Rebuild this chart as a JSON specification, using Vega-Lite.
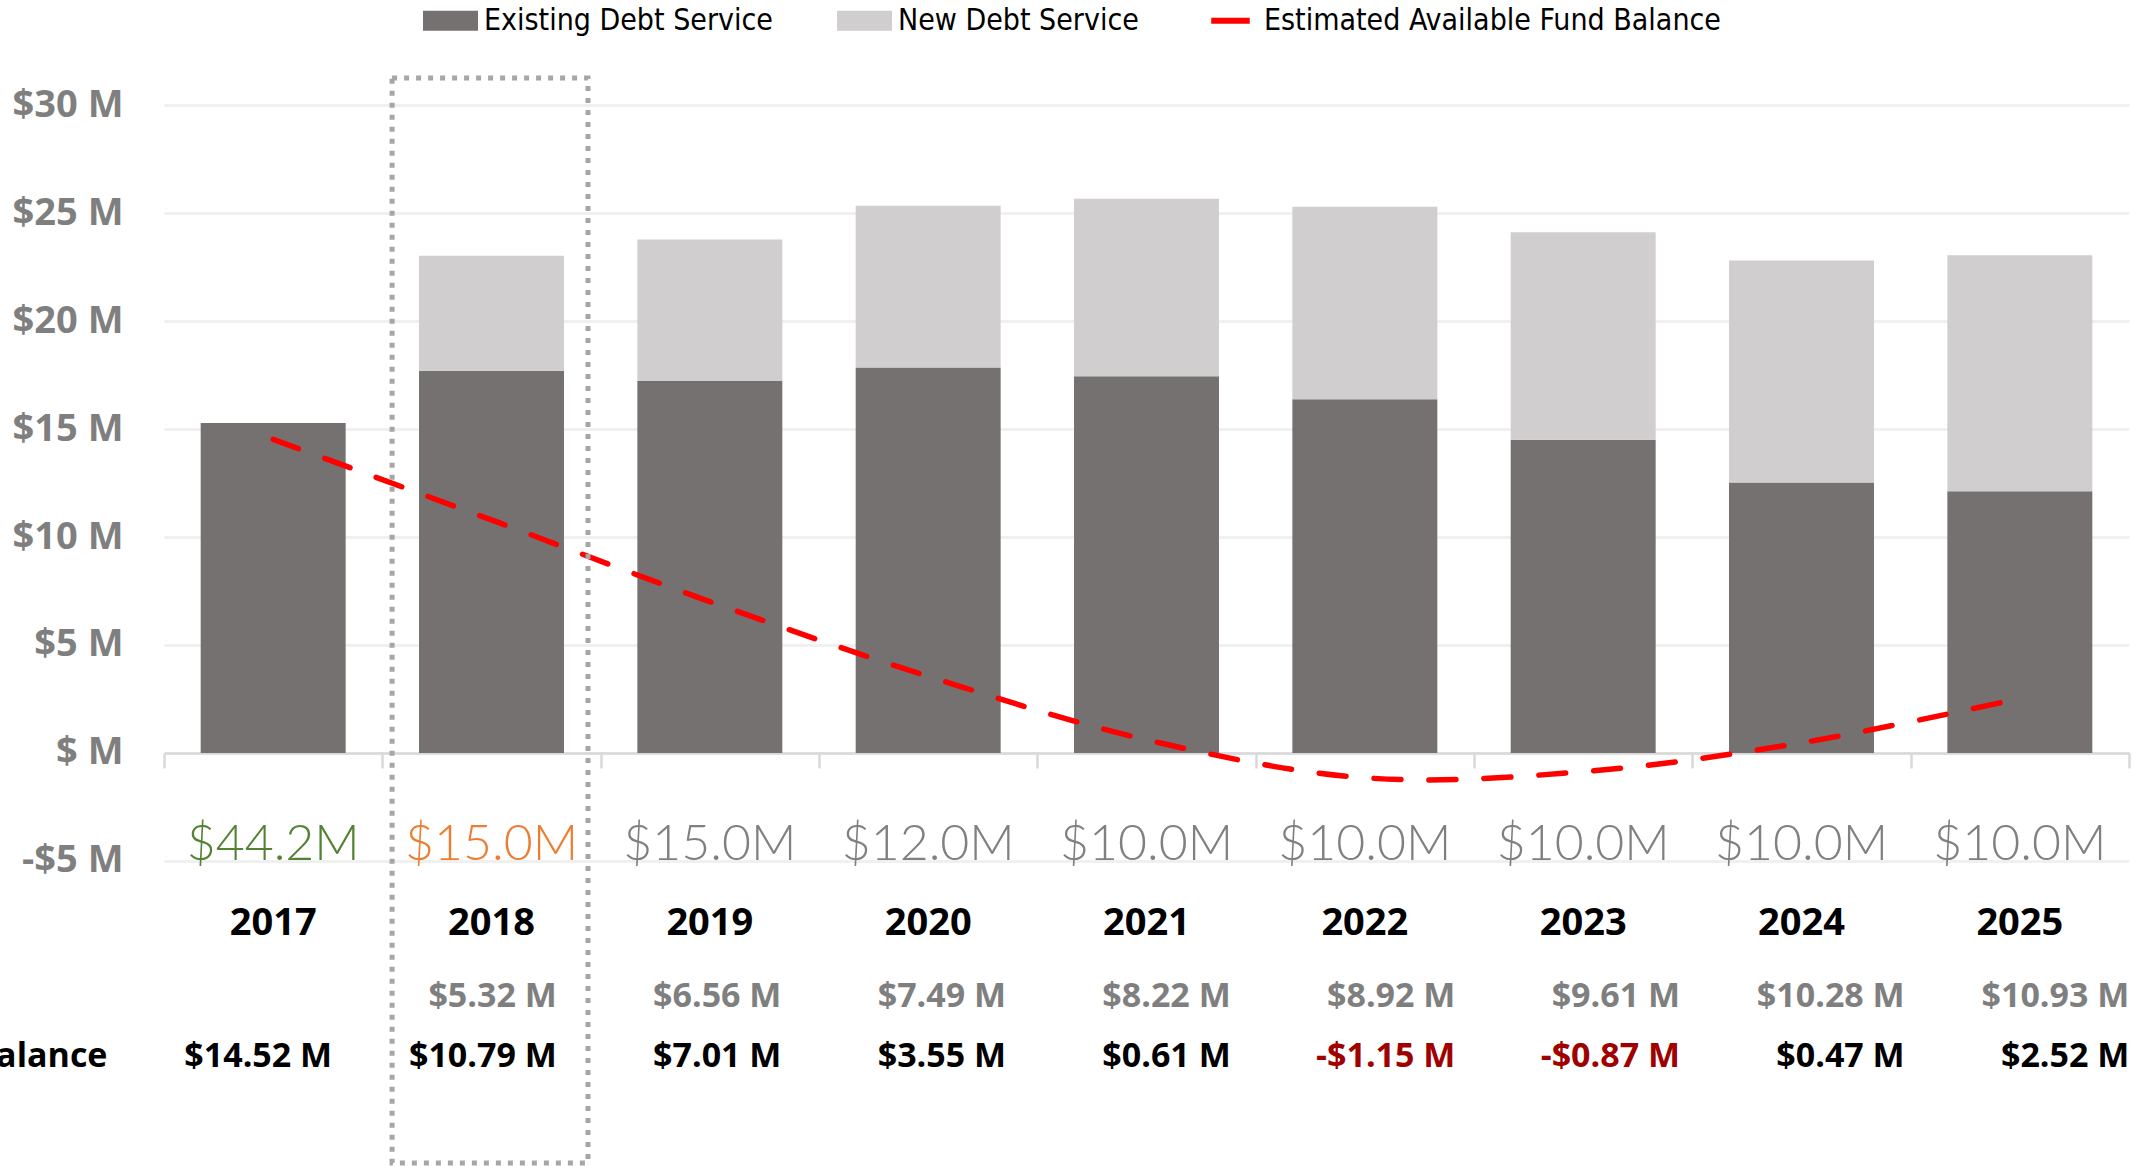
{
  "$schema": "https://vega.github.io/schema/vega-lite/v6.json",
  "width": 1965,
  "height": 1166,
  "autosize": {"type": "none"},
  "padding": {"left": 164, "right": 14, "top": 0, "bottom": 0},
  "background": "white",
  "datasets": {
    "debt": [
      {"year": 2017, "series": "Existing Debt Service", "amount": 15.28},
      {"year": 2018, "series": "Existing Debt Service", "amount": 17.70},
      {"year": 2018, "series": "New Debt Service", "amount": 5.32},
      {"year": 2019, "series": "Existing Debt Service", "amount": 17.22},
      {"year": 2019, "series": "New Debt Service", "amount": 6.56},
      {"year": 2020, "series": "Existing Debt Service", "amount": 17.85},
      {"year": 2020, "series": "New Debt Service", "amount": 7.49},
      {"year": 2021, "series": "Existing Debt Service", "amount": 17.44},
      {"year": 2021, "series": "New Debt Service", "amount": 8.22},
      {"year": 2022, "series": "Existing Debt Service", "amount": 16.38},
      {"year": 2022, "series": "New Debt Service", "amount": 8.92},
      {"year": 2023, "series": "Existing Debt Service", "amount": 14.50},
      {"year": 2023, "series": "New Debt Service", "amount": 9.61},
      {"year": 2024, "series": "Existing Debt Service", "amount": 12.52},
      {"year": 2024, "series": "New Debt Service", "amount": 10.28},
      {"year": 2025, "series": "Existing Debt Service", "amount": 12.12},
      {"year": 2025, "series": "New Debt Service", "amount": 10.93}
    ],
    "years": [
      {"year": 2017, "cash": 44.2, "newDebt": null, "balance": 14.52},
      {"year": 2018, "cash": 15.0, "newDebt": 5.32, "balance": 10.79},
      {"year": 2019, "cash": 15.0, "newDebt": 6.56, "balance": 7.01},
      {"year": 2020, "cash": 12.0, "newDebt": 7.49, "balance": 3.55},
      {"year": 2021, "cash": 10.0, "newDebt": 8.22, "balance": 0.61},
      {"year": 2022, "cash": 10.0, "newDebt": 8.92, "balance": -1.15},
      {"year": 2023, "cash": 10.0, "newDebt": 9.61, "balance": -0.87},
      {"year": 2024, "cash": 10.0, "newDebt": 10.28, "balance": 0.47},
      {"year": 2025, "cash": 10.0, "newDebt": 10.93, "balance": 2.52}
    ],
    "header": [{"label": "Fund Balance", "year": 2016}],
    "box": [{"from": 2017.267, "to": 2018.139, "top": 31.26, "bottom": -18.99}]
  },
  "layer": [
    {
      "layer": [
        {
          "data": {"name": "debt"},
          "mark": {"type": "bar", "width": {"band": 0.664}},
          "encoding": {
            "x": {
              "field": "year", "type": "ordinal",
              "scale": {"paddingInner": 0, "paddingOuter": 0},
              "axis": {
                "offset": -413, "labels": false, "title": null, "grid": false,
                "domain": true, "domainColor": "#d9d9d9", "domainWidth": 2.5,
                "ticks": true, "tickBand": "extent", "tickColor": "#d9d9d9", "tickWidth": 2.5, "tickSize": 15
              }
            },
            "y": {
              "field": "amount", "type": "quantitative", "stack": "zero",
              "scale": {"domain": [-19.13, 34.87], "nice": false, "zero": false},
              "axis": {
                "values": [-5, 0, 5, 10, 15, 20, 25, 30],
                "title": null, "domain": false, "ticks": false, "tickSize": 0,
                "grid": true, "gridColor": "#f0f0f0", "gridWidth": 3,
                "labelExpr": "datum.value == 0 ? '$ M' : (datum.value < 0 ? '-$' + abs(datum.value) : '$' + datum.value) + ' M'",
                "labelFont": "Open Sans", "labelFontWeight": "bold", "labelFontSize": 38,
                "labelColor": "#7f7f7f", "labelPadding": 41, "labelBaseline": "middle"
              }
            },
            "color": {
              "field": "series", "type": "nominal",
              "scale": {
                "domain": ["Existing Debt Service", "New Debt Service", "Estimated Available Fund Balance"],
                "range": ["#767171", "#d0cece", "#ff0000"]
              },
              "legend": {
                "orient": "none", "legendX": 259, "legendY": -7, "direction": "horizontal",
                "title": null, "labelFont": "'Liberation Sans Narrow', 'DejaVu Sans Condensed', 'Open Sans', sans-serif",
                "labelFontSize": 30, "labelColor": "#000000", "labelLimit": 1000,
                "symbolSize": 3025, "columnPadding": 64, "labelOffset": 6, "symbolStrokeWidth": 0,
                "encode": {
                  "symbols": {
                    "update": {
                      "shape": {"signal": "datum.value === 'Estimated Available Fund Balance' ? 'M-0.7,-0.11H0.7V0.11H-0.7Z' : 'M-1,-0.36H1V0.36H-1Z'"},
                      "fill": {"signal": "scale('color', datum.value)"},
                      "stroke": {"value": "transparent"},
                      "strokeDash": {"value": []}
                    }
                  }
                }
              }
            },
            "order": {"field": "series", "sort": "ascending"}
          }
        },
        {
          "data": {"name": "years"},
          "mark": {"type": "line", "interpolate": "catmull-rom", "strokeWidth": 5.5, "strokeDash": [27, 28], "strokeCap": "round"},
          "encoding": {
            "x": {"field": "year", "type": "ordinal"},
            "y": {"field": "balance", "type": "quantitative", "title": null},
            "color": {"datum": "Estimated Available Fund Balance"}
          }
        },
        {
          "data": {"name": "years"},
          "mark": {"type": "text", "font": "Open Sans", "fontWeight": "bold", "fontSize": 38, "baseline": "middle", "align": "center", "color": "#000000"},
          "encoding": {
            "x": {"field": "year", "type": "ordinal"},
            "y": {"datum": -7.9},
            "text": {"field": "year", "type": "nominal"}
          }
        },
        {
          "data": {"name": "years"},
          "transform": [{"calculate": "format(datum.cash, '$.1f') + 'M'", "as": "cashLabel"}],
          "mark": {"type": "text", "font": "Lato", "fontWeight": 300, "fontSize": 50, "baseline": "alphabetic", "align": "center", "dy": -1},
          "encoding": {
            "x": {"field": "year", "type": "ordinal"},
            "y": {"datum": -5},
            "text": {"field": "cashLabel", "type": "nominal"},
            "color": {
              "condition": [
                {"test": "datum.year == 2017", "value": "#548235"},
                {"test": "datum.year == 2018", "value": "#ed7d31"}
              ],
              "value": "#808080"
            }
          }
        }
      ]
    },
    {
      "layer": [
        {
          "data": {"name": "years"},
          "transform": [
            {"filter": "datum.newDebt != null"},
            {"calculate": "'$' + format(datum.newDebt, '.2f') + ' M'", "as": "newLabel"}
          ],
          "mark": {"type": "text", "font": "Open Sans", "fontWeight": "bold", "fontSize": 34, "baseline": "middle", "align": "right", "color": "#7f7f7f"},
          "encoding": {
            "x": {"field": "year", "type": "quantitative", "scale": {"domain": [2016.2517, 2024.9986], "nice": false, "zero": false}, "axis": null},
            "y": {"datum": -11.3},
            "text": {"field": "newLabel", "type": "nominal"}
          }
        },
        {
          "data": {"name": "years"},
          "transform": [
            {"calculate": "(datum.balance < 0 ? '-' : '') + '$' + format(abs(datum.balance), '.2f') + ' M'", "as": "balLabel"}
          ],
          "mark": {"type": "text", "font": "Open Sans", "fontWeight": "bold", "fontSize": 34, "baseline": "middle", "align": "right"},
          "encoding": {
            "x": {"field": "year", "type": "quantitative"},
            "y": {"datum": -14.06},
            "text": {"field": "balLabel", "type": "nominal"},
            "color": {"condition": {"test": "datum.balance < 0", "value": "#a00000"}, "value": "#000000"}
          }
        },
        {
          "data": {"name": "header"},
          "mark": {"type": "text", "font": "Open Sans", "fontWeight": "bold", "fontSize": 34, "baseline": "middle", "align": "right", "color": "#000000"},
          "encoding": {
            "x": {"field": "year", "type": "quantitative"},
            "y": {"datum": -14.06},
            "text": {"field": "label", "type": "nominal"}
          }
        },
        {
          "data": {"name": "box"},
          "mark": {"type": "rect", "fill": "transparent", "stroke": "#a6a6a6", "strokeWidth": 5, "strokeDash": [5, 7]},
          "encoding": {
            "x": {"field": "from", "type": "quantitative"},
            "x2": {"field": "to"},
            "y": {"field": "top", "type": "quantitative"},
            "y2": {"field": "bottom"}
          }
        }
      ]
    }
  ],
  "resolve": {"scale": {"x": "independent"}},
  "config": {
    "view": {"stroke": null},
    "axis": {"title": null}
  }
}
